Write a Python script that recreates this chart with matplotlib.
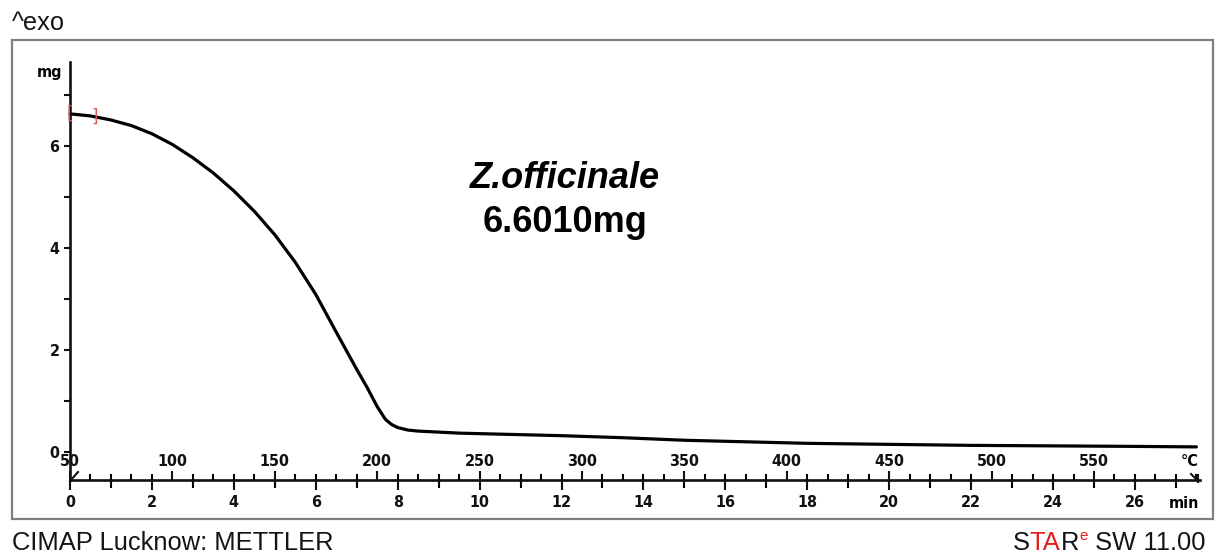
import matplotlib
matplotlib.use("Agg")
import matplotlib.pyplot as plt
from matplotlib.patches import Rectangle
from matplotlib.lines import Line2D
from matplotlib.ticker import MultipleLocator, FixedLocator
import numpy as np

# ---------------- data ----------------
time_min = [0.0, 0.5, 1.0, 1.5, 2.0, 2.5, 3.0, 3.5, 4.0, 4.5, 5.0, 5.5,
            6.0, 6.5, 7.0, 7.25, 7.5, 7.7, 7.85, 8.0, 8.25, 8.5, 9.0,
            9.5, 10.5, 12.0, 13.5, 15.0, 16.5, 18.0, 20.0, 22.0, 24.0, 26.0, 27.5]
mass_mg = [6.63, 6.59, 6.51, 6.40, 6.24, 6.03, 5.77, 5.47, 5.12, 4.72, 4.26, 3.72,
           3.09, 2.35, 1.62, 1.27, 0.89, 0.64, 0.54, 0.48, 0.43, 0.41, 0.39,
           0.37, 0.35, 0.32, 0.28, 0.23, 0.20, 0.17, 0.15, 0.13, 0.12, 0.11, 0.10]

start_temp_c = 50.0      # temperature at t = 0
heating_rate = 20.0      # degC / min
eval_limits_min = [0.0, 0.6]

y_major = [0, 2, 4, 6]
y_minor = [1, 3, 5, 7]
temp_major = [50, 100, 150, 200, 250, 300, 350, 400, 450, 500, 550]
sample_name = "Z.officinale"
sample_mass = "6.6010mg"

# ---------------- layout helpers ----------------
W, H = 1216, 554
def fx(px): return px / W
def fy(py): return 1 - py / H

plt.rcParams["font.family"] = "DejaVu Sans"
plt.rcParams["font.weight"] = "bold"
plt.rcParams["font.stretch"] = "condensed"

fig = plt.figure(figsize=(W / 100, H / 100), dpi=100)
fig.patch.set_facecolor("white")

# outer grey frame
fig.add_artist(Rectangle((fx(12), fy(519)), (1213 - 12) / W, (519 - 40) / H,
                         transform=fig.transFigure, fill=False,
                         edgecolor="#7f7f7f", linewidth=1.6))

ax_l, ax_r, ax_t, ax_b = 70, 1200, 62, 480
px_per_min, px_per_mg, zero_px = 40.96, 51.0, 452
ax = fig.add_axes([fx(ax_l), fy(ax_b), (ax_r - ax_l) / W, (ax_b - ax_t) / H])
ax.set_facecolor("none")
xmax = (ax_r - ax_l) / px_per_min
ax.set_xlim(0, xmax)
ax.set_ylim(-(ax_b - zero_px) / px_per_mg, (zero_px - ax_t) / px_per_mg)

ax.plot(time_min, mass_mg, color="black", lw=2.3, solid_capstyle="round",
        solid_joinstyle="round", clip_on=False)

for s in ["top", "right"]:
    ax.spines[s].set_visible(False)
for s in ["left", "bottom"]:
    ax.spines[s].set_linewidth(1.9)
    ax.spines[s].set_color("#111111")

ax.yaxis.set_major_locator(FixedLocator(y_major))
ax.yaxis.set_minor_locator(FixedLocator(y_minor))
ax.tick_params(axis="y", which="both", direction="out", length=4.5, width=1.5,
               labelsize=11.5, pad=3, colors="#111111")

ax.xaxis.set_major_locator(MultipleLocator(2))
ax.xaxis.set_minor_locator(MultipleLocator(1))
ax.tick_params(axis="x", which="major", direction="out", length=7.5, width=1.5,
               labelsize=11.5, pad=3.2, colors="#111111")
ax.tick_params(axis="x", which="minor", direction="out", length=5.5, width=1.5)

# temperature axis sharing the same line
ax2 = ax.twiny()
ax2.set_xlim(start_temp_c + heating_rate * 0, start_temp_c + heating_rate * xmax)
for s in ax2.spines.values():
    s.set_visible(False)
ax2.spines["top"].set_position(("axes", 0))
ax2.xaxis.set_major_locator(FixedLocator(temp_major))
ax2.xaxis.set_minor_locator(MultipleLocator(10))
ax2.tick_params(axis="x", which="major", direction="out", length=6.5, width=1.5,
                labelsize=11.5, pad=1.2, colors="#111111")
ax2.tick_params(axis="x", which="minor", direction="out", length=4.0, width=1.5)

# axis end decorations
fig.add_artist(Line2D([fx(71), fx(78)], [fy(480), fy(472)], color="#111111", lw=1.5))
fig.add_artist(Line2D([fx(1191), fx(1198)], [fy(474), fy(481)], color="#111111", lw=1.5))
fig.add_artist(Line2D([fx(1198), fx(1198)], [fy(475), fy(482)], color="#111111", lw=1.5))

# unit labels
fig.text(fx(50), fy(73), "mg", ha="center", va="center", fontsize=11.5)
fig.text(fx(1190), fy(462), "°C", ha="center", va="center", fontsize=11.5)
fig.text(fx(1184), fy(503), "min", ha="center", va="center", fontsize=11.5)

# evaluation limit brackets
for lim, sym in zip(eval_limits_min, ["[", "]"]):
    ax.text(lim, np.interp(lim, time_min, mass_mg), sym, color="#d85a5a",
            fontsize=12, fontweight="normal", ha="center", va="center",
            family="DejaVu Sans", fontstretch="normal")

# annotation
arial = dict(family="Liberation Sans", fontstretch="normal")
fig.text(fx(565), fy(188), sample_name, ha="center", va="baseline",
         fontsize=26, fontweight="bold", style="italic", **arial)
fig.text(fx(565), fy(232), sample_mass, ha="center", va="baseline",
         fontsize=26, fontweight="bold", **arial)

# header/footer texts
fig.text(fx(12), fy(30), "^exo", ha="left", va="baseline", fontsize=18.3,
         fontweight="normal", color="#141414", **arial)
fig.text(fx(12), fy(550), "CIMAP Lucknow: METTLER", ha="left", va="baseline",
         fontsize=18.4, fontweight="normal", color="#141414", **arial)

fp = dict(fontsize=18.4, fontweight="normal", annotation_clip=False, **arial)
red = "#e02020"
t_sw = ax.annotate(" SW 11.00", xy=(fx(1205), fy(550)), xycoords="figure fraction",
                   ha="right", va="baseline", color="#141414", **fp)
t_e = ax.annotate("e", xy=(0, 0.62), xycoords=t_sw, ha="right", va="baseline",
                  color=red, fontsize=11, fontweight="normal",
                  annotation_clip=False, **arial)
t_r = ax.annotate("R", xy=(0, 0), xycoords=(t_e, t_sw), ha="right", va="bottom",
                  color="#141414", **fp)
t_ta = ax.annotate("TA", xy=(0, 0), xycoords=t_r, ha="right", va="bottom",
                   color=red, **fp)
t_s = ax.annotate("S", xy=(0, 0), xycoords=t_ta, ha="right", va="bottom",
                  color="#141414", **fp)

fig.savefig("out.png", dpi=100)
